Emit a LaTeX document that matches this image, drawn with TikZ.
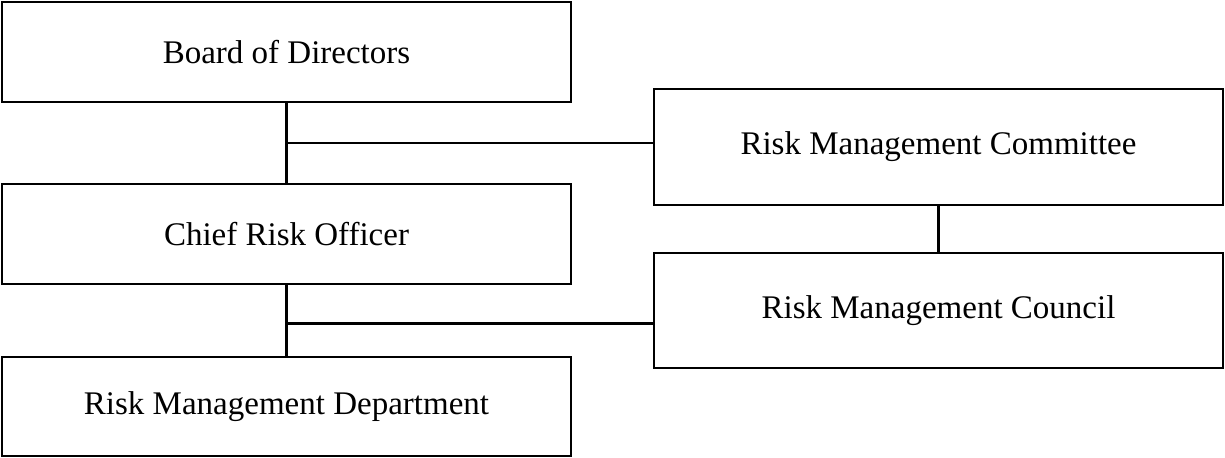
\documentclass[tikz,border=0pt]{standalone}
\usepackage{fontspec}
\setmainfont{Liberation Serif}
\usepackage{tikz}
\usetikzlibrary{positioning}
\tikzset{unit/.style={draw, line width=1.4pt, outer sep=0pt, minimum width=284.5pt, minimum height=50pt, font=\fontsize{16.5}{20}\selectfont}}

\begin{document}
\begin{tikzpicture}[line width=1.3pt]
		\useasboundingbox (0,0) rectangle (612.5pt,-229pt);
		\node(bod)[unit, anchor=north west] at (1pt,-1pt){Board of Directors};
		\node(cro)[unit, below=41pt of bod]{Chief Risk Officer};
		\node(rmd)[unit, below=36.5pt of cro, minimum height=49.5pt]{Risk Management Department};
		\node(rmcm)[unit, minimum height=58pt, below right=43.5pt and 41.5pt of bod.north east]{Risk Management Committee};
		\node(rmcl)[unit, minimum height=57.5pt, below=24pt of rmcm]{Risk Management Council};
		\draw(bod) to coordinate[midway](jb)(cro);
		\draw(cro) to coordinate[pos=.54](jc)(rmd);
		\draw(jb) to (jb -| rmcm.west);
		\draw(jc) to (jc -| rmcl.west);
		\draw(rmcm) to (rmcl);
	\end{tikzpicture}
\end{document}
